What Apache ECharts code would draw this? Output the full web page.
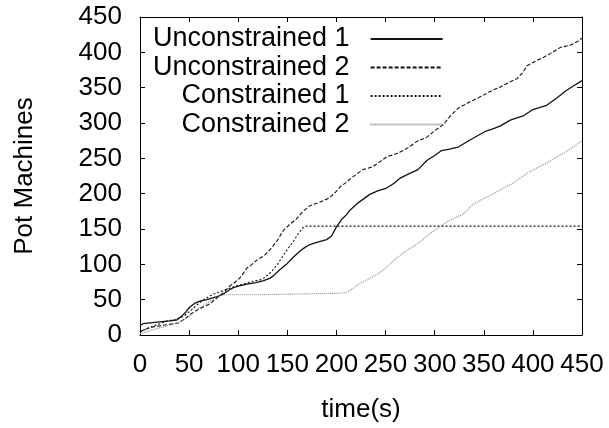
<!DOCTYPE html>
<html>
<head>
<meta charset="utf-8">
<script src="https://cdn.jsdelivr.net/npm/echarts@6/dist/echarts.min.js"></script>
<style>
html,body{margin:0;padding:0;background:#fff;}
#chart{width:609px;height:428px;}
</style>
</head>
<body>
<div id="chart"></div>
<script>
var seriesNames = ['Unconstrained 1', 'Unconstrained 2', 'Constrained 1', 'Constrained 2'];
var xTicks = [0, 50, 100, 150, 200, 250, 300, 350, 400, 450];
var yTicks = [0, 50, 100, 150, 200, 250, 300, 350, 400, 450];

var unconstrained1 = [[0,13],[3,16],[15,18],[30,20],[37,21],[42,26],[47,33],[51,40],[56,45],[61,48],[68,50],[75,53],[80,55],[85,58],[90,63],[95,67],[102,70],[109,72],[118,74],[126,77],[132,80],[136,84],[142,92],[149,100],[156,110],[163,119],[168,124],[173,128],[180,131],[190,135],[195,140],[200,153],[205,163],[210,170],[214,177],[222,187],[228,193],[234,199],[242,204],[251,208],[258,214],[265,222],[272,227],[283,234],[292,247],[300,254],[307,261],[315,263],[324,266],[330,271],[336,276],[345,283],[353,289],[360,292],[367,296],[377,304],[390,310],[400,319],[414,325],[424,335],[434,346],[442,353],[450,360]];

var unconstrained2 = [[0,5],[5,8],[15,12],[30,15],[39,17],[46,23],[52,30],[58,35],[65,40],[71,44],[78,52],[85,60],[92,70],[97,75],[102,81],[109,95],[114,100],[119,106],[127,113],[133,122],[139,132],[146,148],[152,156],[159,164],[166,175],[173,183],[183,188],[193,194],[199,202],[204,210],[210,216],[215,222],[221,228],[227,234],[237,238],[244,245],[251,252],[260,256],[268,261],[275,267],[282,274],[292,280],[300,289],[309,298],[316,310],[324,321],[336,330],[345,336],[353,342],[360,347],[367,351],[375,357],[384,363],[390,372],[394,381],[402,387],[411,393],[420,400],[428,407],[438,410],[445,415],[450,420]];

var constrained1 = [[0,4],[8,10],[18,15],[28,20],[36,22],[45,27],[52,35],[60,45],[67,52],[75,58],[85,63],[95,68],[105,72],[115,76],[122,78],[128,82],[134,90],[140,100],[146,113],[151,123],[156,132],[161,143],[166,152],[169,154],[450,154]];

var constrained2 = [[0,2],[10,6],[20,10],[30,14],[40,18],[48,24],[55,32],[62,40],[70,47],[78,53],[85,57],[120,57],[160,58],[200,59],[210,60],[217,66],[224,73],[234,80],[244,88],[252,97],[261,109],[270,118],[278,125],[287,134],[295,143],[303,151],[312,160],[320,165],[329,171],[339,185],[350,193],[360,200],[370,208],[380,215],[394,229],[405,237],[415,244],[424,252],[432,258],[440,265],[448,273],[450,274]];

var FONT = 'Liberation Sans, Arial, sans-serif';
var chart = echarts.init(document.getElementById('chart'), null, {renderer: 'canvas'});

function mkX(pos, labels) {
  return {
    type: 'value', position: pos, min: xTicks[0], max: xTicks[xTicks.length-1], interval: 50,
    name: pos === 'bottom' ? 'time(s)' : '', nameLocation: 'middle', nameGap: 62,
    nameTextStyle: {fontSize: 26, color: '#000', fontFamily: FONT},
    axisLine: {show: true, onZero: false, lineStyle: {color: '#000', width: 1}},
    axisTick: {show: true, inside: true, length: 5, lineStyle: {color: '#000'}},
    axisLabel: {show: labels, fontSize: 26, color: '#000', fontFamily: FONT, margin: 17},
    splitLine: {show: false}
  };
}
function mkY(pos, labels) {
  return {
    type: 'value', position: pos, min: yTicks[0], max: yTicks[yTicks.length-1], interval: 50,
    name: pos === 'left' ? 'Pot Machines' : '', nameLocation: 'middle', nameGap: 102,
    nameTextStyle: {fontSize: 26, color: '#000', fontFamily: FONT},
    axisLine: {show: true, onZero: false, lineStyle: {color: '#000', width: 1}},
    axisTick: {show: true, inside: true, length: 5, lineStyle: {color: '#000'}},
    axisLabel: {show: labels, fontSize: 26, color: '#000', fontFamily: FONT, margin: 18},
    splitLine: {show: false}
  };
}

var styles = [
  {color: '#111', width: 1.3, type: 'solid'},
  {color: '#111', width: 1.1, type: [4, 2]},
  {color: '#111', width: 1.1, type: [2, 2]},
  {color: '#888', width: 1.1, type: [1, 1]}
];
var datas = [unconstrained1, unconstrained2, constrained1, constrained2];

var option = {
  animation: false,
  backgroundColor: '#fff',
  grid: {left: 140, right: 27, top: 17, bottom: 86, containLabel: false},
  xAxis: [mkX('bottom', true), mkX('top', false)],
  yAxis: [mkY('left', true), mkY('right', false)],
  legend: {
    orient: 'vertical', align: 'right', left: 153, top: 25, padding: 0,
    itemWidth: 72, itemHeight: 14, itemGap: 0.5,
    data: seriesNames,
    itemStyle: {opacity: 0, color: 'transparent', borderWidth: 0},
    textStyle: {fontSize: 27, color: '#000', fontFamily: FONT, lineHeight: 28, padding: [0, 16, 0, 0]}
  },
  series: seriesNames.map(function (n, i) {
    return {
      name: n, type: 'line', data: datas[i], xAxisIndex: 0, yAxisIndex: 0,
      symbol: 'none', showSymbol: false, smooth: false,
      lineStyle: styles[i], itemStyle: {color: styles[i].color}
    };
  })
};
chart.setOption(option);
</script>
</body>
</html>
